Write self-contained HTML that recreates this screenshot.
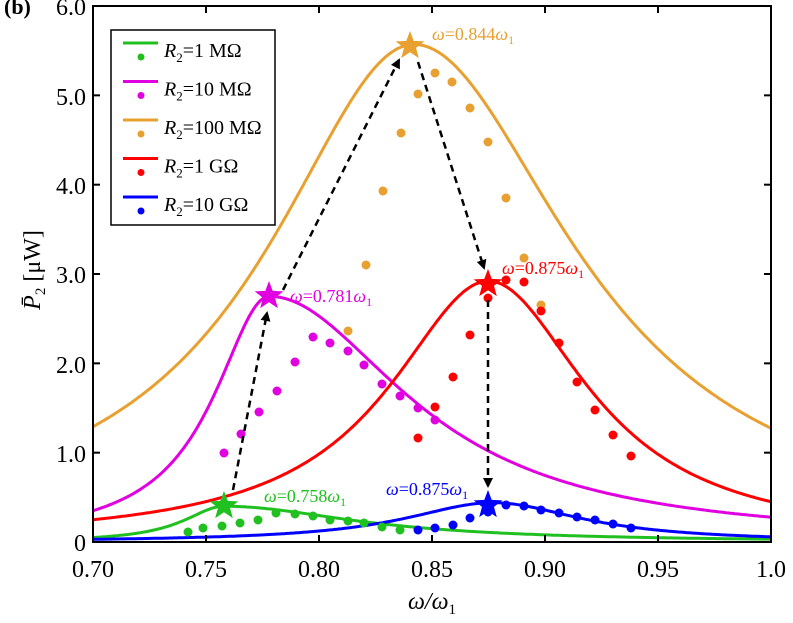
<!DOCTYPE html>
<html><head><meta charset="utf-8"><style>
body{margin:0;background:#fff}
svg{display:block;font-family:"Liberation Serif",serif}
</style></head><body>
<svg id="s" width="793" height="623" viewBox="0 0 793 623">
<defs><marker id="ah" markerWidth="10" markerHeight="10" refX="8" refY="5" orient="auto" markerUnits="userSpaceOnUse"><path d="M0,0 L10,5 L0,10 z" fill="#000"/></marker></defs>
<g id="curves" fill="none" stroke-width="3"></g>
<g id="dots"></g>
<g stroke="#000" stroke-width="2.5" stroke-dasharray="7,5" fill="none">
<line x1="233" y1="490" x2="267" y2="313" marker-end="url(#ah)"/>
<line x1="283" y1="290" x2="399" y2="60" marker-end="url(#ah)"/>
<line x1="418" y1="62" x2="484" y2="268" marker-end="url(#ah)"/>
<line x1="488" y1="300" x2="488" y2="486" marker-end="url(#ah)"/>
</g>
<g id="stars"></g>
<rect x="93" y="6" width="678" height="536" fill="none" stroke="#000" stroke-width="2"/>
<g id="ticks" stroke="#000" stroke-width="2"></g>
<g font-size="24" text-anchor="end">
<text x="86" y="551">0</text><text x="86" y="462">1.0</text><text x="86" y="373">2.0</text><text x="86" y="283">3.0</text><text x="86" y="194">4.0</text><text x="86" y="105">5.0</text><text x="86" y="15">6.0</text>
</g>
<g font-size="24" text-anchor="middle">
<text x="93" y="577">0.70</text><text x="206" y="577">0.75</text><text x="319" y="577">0.80</text><text x="432" y="577">0.85</text><text x="545" y="577">0.90</text><text x="658" y="577">0.95</text><text x="771" y="577">1.0</text>
<text x="432" y="609" font-style="italic">ω/ω<tspan font-size="15" dy="5" font-style="normal">1</tspan></text>
</g>
<text x="4" y="14" font-size="22" font-weight="bold">(b)</text>
<text transform="translate(40,270) rotate(-90)" font-size="24" text-anchor="middle"><tspan font-style="italic">P̄</tspan><tspan font-size="15" dy="5">2</tspan><tspan dy="-5"> [μW]</tspan></text>
<g font-size="18">
<text x="432" y="40" fill="#e8a030"><tspan font-style="italic">ω</tspan>=0.844<tspan font-style="italic">ω</tspan><tspan font-size="12" dy="4">1</tspan></text>
<text x="290" y="302" fill="#e000e0"><tspan font-style="italic">ω</tspan>=0.781<tspan font-style="italic">ω</tspan><tspan font-size="12" dy="4">1</tspan></text>
<text x="502" y="274" fill="#ff0000"><tspan font-style="italic">ω</tspan>=0.875<tspan font-style="italic">ω</tspan><tspan font-size="12" dy="4">1</tspan></text>
<text x="264" y="502" fill="#20c020"><tspan font-style="italic">ω</tspan>=0.758<tspan font-style="italic">ω</tspan><tspan font-size="12" dy="4">1</tspan></text>
<text x="386" y="495" fill="#0000ff"><tspan font-style="italic">ω</tspan>=0.875<tspan font-style="italic">ω</tspan><tspan font-size="12" dy="4">1</tspan></text>
</g>
<rect x="111" y="30" width="164" height="195" fill="#fff" stroke="#000" stroke-width="1.5"/>
<g id="leg" font-size="20"></g>
</svg>
<script>
var ns="http://www.w3.org/2000/svg";
function X(v){return 93+(v-0.7)/0.3*678}
function Y(v){return 542-v*89.33}
function el(p,t,a){var e=document.createElementNS(ns,t);for(var k in a)e.setAttribute(k,a[k]);document.getElementById(p).appendChild(e);return e}
var C={g:"#20c020",m:"#e000e0",o:"#e8a030",r:"#ff0000",b:"#0000ff"};
var S=[["m",2.75,0.778,0.0298,0.0744],["o",5.57,0.842,0.078,0.086],["r",2.92,0.875,0.0535,0.0534],["g",0.40,0.758,0.022,0.071],["b",0.44,0.877,0.048,0.048]];
S.forEach(function(s){var d="";for(var i=0;i<=300;i++){var x=0.7+i*0.001;var g=x<s[2]?s[3]:s[4];var u=Math.abs((x-s[2])/g);var v=s[1]/(1+u*u);d+=(i?"L":"M")+X(x).toFixed(1)+","+Y(v).toFixed(1)}el("curves","path",{d:d,stroke:C[s[0]]})});
var D={g:[[188,532],[203,528],[222,526],[240,523],[258,520],[276,513],[295,514],[313,516],[330,520],[348,521],[364,523],[382,527],[400,530]],
m:[[224,453],[241,434],[259,412],[277,391],[295,362],[313,337],[330,343],[348,351],[364,365],[382,384],[400,396],[418,408],[435,420]],
o:[[348,331],[366,265],[383,191],[401,133],[418,94],[435,73],[452,82],[470,108],[488,142],[506,198],[524,258],[541,305]],
r:[[418,438],[435,407],[453,377],[470,335],[488,298],[506,280],[524,282],[541,311],[559,343],[577,382],[595,410],[613,435],[631,456]],
b:[[418,530],[435,528],[453,525],[470,518],[488,512],[506,505],[524,506],[541,510],[559,513],[577,517],[595,520],[613,524],[631,528]]};
for(var k in D)D[k].forEach(function(p){el("dots","circle",{cx:p[0],cy:p[1],r:4.5,fill:C[k]})});
function star(cx,cy,R,c){var d="";for(var i=0;i<10;i++){var r=i%2?R*0.42:R;var a=-Math.PI/2+i*Math.PI/5;d+=(i?"L":"M")+(cx+r*Math.cos(a)).toFixed(1)+","+(cy+r*Math.sin(a)).toFixed(1)}el("stars","path",{d:d+"Z",fill:c})}
star(224,506,15,C.g);star(269,296,15,C.m);star(410,46,15,C.o);star(488,284,15,C.r);star(488,505,15,C.b);
for(var i=0;i<=6;i++){var x=93+i*113;el("ticks","line",{x1:x,y1:542,x2:x,y2:535});el("ticks","line",{x1:x,y1:6,x2:x,y2:13});var y=Y(i);el("ticks","line",{x1:93,y1:y,x2:100,y2:y});el("ticks","line",{x1:771,y1:y,x2:764,y2:y})}
var L=[["g","1 MΩ"],["m","10 MΩ"],["o","100 MΩ"],["r","1 GΩ"],["b","10 GΩ"]];
L.forEach(function(l,i){var y=43+i*38.5;el("leg","line",{x1:123,y1:y,x2:158,y2:y,stroke:C[l[0]],"stroke-width":3});el("leg","circle",{cx:141,cy:y+14,r:3.5,fill:C[l[0]]});
var t=el("leg","text",{x:164,y:y+14});t.innerHTML='<tspan font-style="italic">R</tspan><tspan font-size="13" dy="5">2</tspan><tspan dy="-5">='+l[1]+'</tspan>'});
</script>
</body></html>
